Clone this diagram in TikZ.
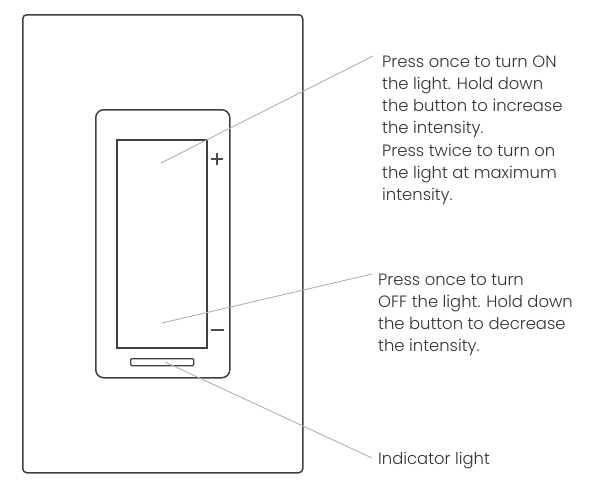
\documentclass[tikz,border=0pt]{standalone}
\usepackage{fontspec}
\usetikzlibrary{calc}
\setmainfont{Poppins Light}
\begin{document}
\begin{tikzpicture}[x=1pt,y=-1pt,
  frame/.style={draw=black!75,line width=1.5pt},
  leader/.style={draw=black!30,line width=0.9pt},
  lbl/.style={anchor=base west,align=left,inner sep=0pt,text=black!80,
    font=\fontsize{16.4}{22.3}\selectfont}]
\useasboundingbox (0,0) rectangle (589,493);
\fill[white] (0,0) rectangle (589,493);
\node[frame,rounded corners=4pt,minimum width=280pt,minimum height=458pt,inner sep=0pt,anchor=north west] (plate) at (22,14) {};
\node[frame,rounded corners=8pt,minimum width=134pt,minimum height=268pt,inner sep=0pt,anchor=north west] (bezel) at (95,109) {};
\node[frame,minimum width=90pt,minimum height=208pt,inner sep=0pt,anchor=north west] (rocker) at (116,139) {};
\node[frame,line width=1.3pt,rounded corners=1pt,minimum width=63pt,minimum height=7pt,inner sep=0pt,anchor=north west] (ind) at (130,358) {};
\coordinate (plus) at (217,159);
\draw[draw=black!70,line width=1.4pt] ($(plus)+(-6,0)$) -- ($(plus)+(6,0)$) ($(plus)+(0,-6)$) -- ($(plus)+(0,6)$);
\coordinate (minus) at (217,330);
\draw[draw=black!70,line width=1.4pt] ($(minus)+(-6.5,0)$) -- ($(minus)+(6.5,0)$);
\coordinate (p1) at (161,163);
\coordinate (q1) at (373,56);
\coordinate (p2) at (162,323);
\coordinate (q2) at (372,274);
\coordinate (p3) at (165,362);
\coordinate (q3) at (372,458);
\draw[leader] (p1) -- (q1);
\draw[leader] (p2) -- (q2);
\draw[leader] (p3) -- (q3);
% anchor base of a multi-line node is the last line's baseline
\node[lbl] (t1) at (382,200.8) {Press once to turn ON\\the light. Hold down\\the button to increase\\the intensity.\\Press twice to turn on\\the light at maximum\\intensity.};
\node[lbl] (t2) at (378,351.9) {Press once to turn\\OFF the light. Hold down\\the button to decrease\\the intensity.};
\node[lbl] (t3) at (378,464) {Indicator light};
\end{tikzpicture}
\end{document}
